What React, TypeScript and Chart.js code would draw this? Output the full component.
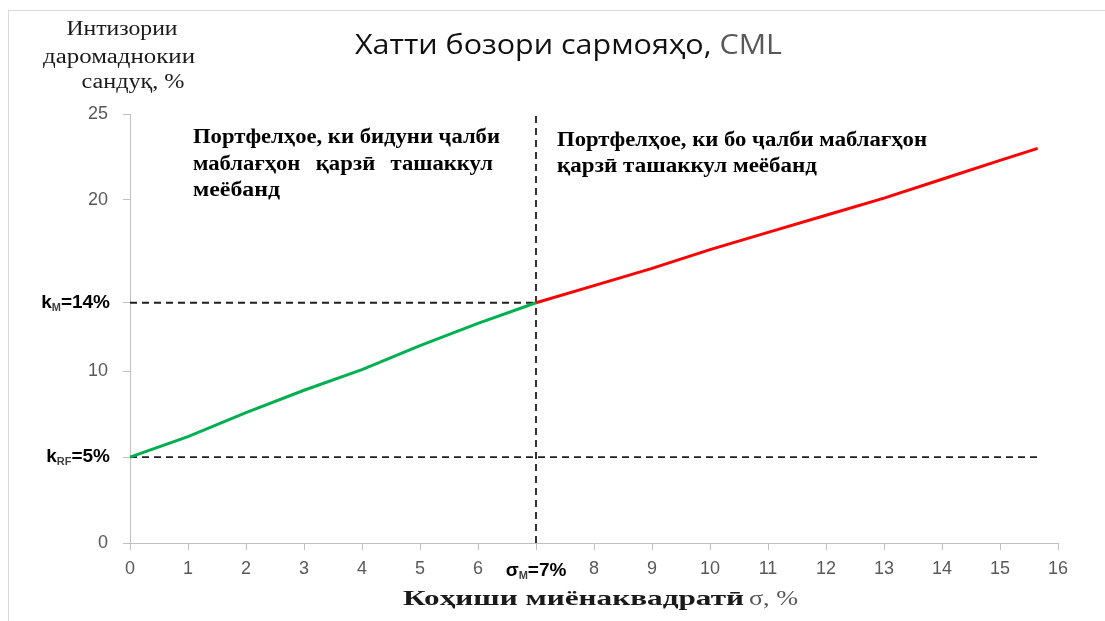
import React, { useEffect, useRef } from "react";
import { Chart, registerables } from "chart.js";

Chart.register(...registerables);

// ---- data ----
const X_TICKS = [0, 1, 2, 3, 4, 5, 6, 7, 8, 9, 10, 11, 12, 13, 14, 15, 16];
const Y_TICKS = [0, 5, 10, 14, 20, 25];
const GREEN_X = [0, 1, 2, 3, 4, 4.5, 5, 6, 7];
const GREEN_Y = [5, 6.2, 7.6, 8.9, 10.1, 10.8, 11.5, 12.8, 14];
const RED_X = [7, 8, 9, 10, 11, 12, 13, 14, 15, 15.65];
const RED_Y = [14, 15.0, 16.0, 17.1, 18.1, 19.1, 20.1, 21.2, 22.3, 23.0];
const K_M = 14;
const K_RF = 5;
const SIGMA_M = 7;
const X_END = 15.65;
const Y_MAX = 25;
const X_MAX = 16;

const TITLE_MAIN = "Хатти бозори сармояҳо,";
const TITLE_CML = " CML";
const Y_TITLE = ["Интизории", "даромаднокии", "сандуқ, %"];
const LEFT_NOTE = ["Портфелҳое, ки бидуни ҷалби", "маблағҳон қарзӣ ташаккул", "меёбанд"];
const RIGHT_NOTE = ["Портфелҳое, ки бо ҷалби маблағҳон", "қарзӣ ташаккул меёбанд"];
const X_TITLE_BOLD = "Коҳиши миёнаквадратӣ";
const X_TITLE_REG = "σ, %";

const SANS = "'Liberation Sans', Arial, sans-serif";
const SERIF = "'Liberation Serif', 'Times New Roman', serif";

function toPts(xs: number[], ys: number[]) {
  return xs.map((x, i) => ({ x, y: ys[i] }));
}

type Part = { text: string; font: string; color: string };

function drawParts(ctx: CanvasRenderingContext2D, parts: Part[], x: number, y: number, target: number) {
  let total = 0;
  const ws = parts.map((p) => {
    ctx.font = p.font;
    const w = ctx.measureText(p.text).width;
    total += w;
    return w;
  });
  const s = target / total;
  ctx.save();
  ctx.translate(x, y);
  ctx.scale(s, 1);
  ctx.textAlign = "left";
  ctx.textBaseline = "alphabetic";
  let cx = 0;
  parts.forEach((p, i) => {
    ctx.font = p.font;
    ctx.fillStyle = p.color;
    ctx.fillText(p.text, cx, 0);
    cx += ws[i];
  });
  ctx.restore();
  return s;
}

function drawJustified(ctx: CanvasRenderingContext2D, text: string, font: string, color: string, x0: number, x1: number, y: number, s: number) {
  const words = text.split(" ");
  ctx.font = font;
  const ws = words.map((w) => ctx.measureText(w).width * s);
  const sum = ws.reduce((a, b) => a + b, 0);
  const gap = (x1 - x0 - sum) / (words.length - 1);
  let cx = x0;
  words.forEach((w, i) => {
    ctx.save();
    ctx.translate(cx, y);
    ctx.scale(s, 1);
    ctx.font = font;
    ctx.fillStyle = color;
    ctx.textAlign = "left";
    ctx.textBaseline = "alphabetic";
    ctx.fillText(w, 0, 0);
    ctx.restore();
    cx += ws[i] + gap;
  });
}

function drawSubLabel(ctx: CanvasRenderingContext2D, main: string, sub: string, rest: string, x: number, y: number, align: "right" | "center") {
  const big = `bold 19px ${SANS}`;
  const small = `bold 11px ${SANS}`;
  ctx.save();
  ctx.textBaseline = "middle";
  ctx.textAlign = "left";
  ctx.font = big;
  const w1 = ctx.measureText(main).width;
  const w3 = ctx.measureText(rest).width;
  ctx.font = small;
  const w2 = ctx.measureText(sub).width;
  const total = w1 + w2 + w3;
  const sx = align === "right" ? x - total : x - total / 2;
  ctx.fillStyle = "#000";
  ctx.font = big;
  ctx.fillText(main, sx, y);
  ctx.font = small;
  ctx.fillStyle = "#404040";
  ctx.fillText(sub, sx + w1, y + 5);
  ctx.font = big;
  ctx.fillStyle = "#000";
  ctx.fillText(rest, sx + w1 + w2, y);
  ctx.restore();
}

const textPlugin = {
  id: "cmlText",
  afterDraw(chart: any) {
    const ctx: CanvasRenderingContext2D = chart.ctx;
    const xs = chart.scales.x;
    const ys = chart.scales.y;

    // title
    drawParts(
      ctx,
      [
        { text: TITLE_MAIN, font: `28px 'Open Sans', sans-serif`, color: "#111" },
        { text: TITLE_CML, font: `28px 'Open Sans', sans-serif`, color: "#595959" },
      ],
      355,
      54,
      427
    );

    // y-axis title (three lines)
    const yt = [
      { c: 122, b: 35, w: 111 },
      { c: 119, b: 63, w: 152 },
      { c: 133, b: 88, w: 103 },
    ];
    Y_TITLE.forEach((t, i) => {
      drawParts(ctx, [{ text: t, font: `20px ${SERIF}`, color: "#1a1a1a" }], yt[i].c - yt[i].w / 2, yt[i].b, yt[i].w);
    });

    // left note
    const bf = `bold 20px ${SERIF}`;
    const s1 = drawParts(ctx, [{ text: LEFT_NOTE[0], font: bf, color: "#000" }], 193, 143, 307);
    drawJustified(ctx, LEFT_NOTE[1], bf, "#000", 193, 493, 170, s1);
    drawParts(ctx, [{ text: LEFT_NOTE[2], font: bf, color: "#000" }], 193, 196, 87);

    // right note
    drawParts(ctx, [{ text: RIGHT_NOTE[0], font: bf, color: "#000" }], 557, 146, 370);
    drawParts(ctx, [{ text: RIGHT_NOTE[1], font: bf, color: "#000" }], 557, 172, 260);

    // x-axis title
    drawParts(ctx, [{ text: X_TITLE_BOLD, font: `bold 22px ${SERIF}`, color: "#1a1a1a" }], 403, 605, 341);
    drawParts(ctx, [{ text: X_TITLE_REG, font: `22px ${SERIF}`, color: "#595959" }], 749, 605, 49);

    // special tick labels
    drawSubLabel(ctx, "k", "M", "=14%", 110, ys.getPixelForValue(K_M), "right");
    drawSubLabel(ctx, "k", "RF", "=5%", 110, ys.getPixelForValue(K_RF), "right");
    drawSubLabel(ctx, "σ", "M", "=7%", xs.getPixelForValue(SIGMA_M), xs.top + 28, "center");
  },
};

export default function App() {
  const ref = useRef<HTMLCanvasElement | null>(null);
  useEffect(() => {
    if (!ref.current) return;
    const dash = { borderColor: "#1f1f1f", borderWidth: 1.8, borderDash: [7, 5], pointRadius: 0, showLine: true, fill: false };
    const chart = new Chart(ref.current, {
      type: "scatter",
      data: {
        datasets: [
          { label: "green", data: toPts(GREEN_X, GREEN_Y), borderColor: "#00B050", borderWidth: 3, pointRadius: 0, showLine: true, clip: false } as any,
          { label: "red", data: toPts(RED_X, RED_Y), borderColor: "#FF0000", borderWidth: 3, pointRadius: 0, showLine: true, clip: false } as any,
          { label: "kM", data: [{ x: 0, y: K_M }, { x: SIGMA_M, y: K_M }], ...dash } as any,
          { label: "kRF", data: [{ x: 0, y: K_RF }, { x: X_END, y: K_RF }], ...dash } as any,
          { label: "sigmaM", data: [{ x: SIGMA_M, y: 0 }, { x: SIGMA_M, y: Y_MAX }], ...dash } as any,
        ],
      },
      options: {
        animation: false,
        responsive: false,
        maintainAspectRatio: false,
        layout: { padding: { left: 70, top: 114, right: 47, bottom: 38 } },
        plugins: { legend: { display: false }, tooltip: { enabled: false }, title: { display: false } },
        scales: {
          x: {
            type: "linear",
            min: 0,
            max: X_MAX,
            afterBuildTicks: (scale: any) => {
              scale.ticks = X_TICKS.map((v) => ({ value: v }));
            },
            afterFit: (scale: any) => {
              scale.height = 40;
            },
            ticks: {
              autoSkip: false,
              maxRotation: 0,
              padding: 8,
              color: "#595959",
              font: { family: SANS, size: 18 },
              callback: (v: any) => (v === SIGMA_M ? "" : String(v)),
            },
            grid: { display: true, drawOnChartArea: false, drawTicks: true, tickLength: 7, color: "#BFBFBF" },
            border: { display: true, color: "#BFBFBF", width: 1 },
          },
          y: {
            type: "linear",
            min: 0,
            max: Y_MAX,
            afterBuildTicks: (scale: any) => {
              scale.ticks = Y_TICKS.map((v) => ({ value: v }));
            },
            afterFit: (scale: any) => {
              scale.width = 60;
            },
            ticks: {
              autoSkip: false,
              padding: 15,
              color: "#595959",
              font: { family: SANS, size: 18 },
              callback: (v: any) => (v === K_M || v === K_RF ? "" : String(v)),
            },
            grid: { display: true, drawOnChartArea: false, drawTicks: true, tickLength: 7, color: "#BFBFBF" },
            border: { display: true, color: "#BFBFBF", width: 1 },
          },
        },
      } as any,
      plugins: [textPlugin],
    });
    return () => chart.destroy();
  }, []);

  return (
    <div style={{ position: "absolute", left: 0, top: 0, width: 1105, height: 621, overflow: "hidden", background: "#fff" }}>
      <div
        style={{
          position: "absolute",
          left: 8,
          top: 10,
          width: 1105,
          height: 640,
          borderTop: "1px solid #D9D9D9",
          borderLeft: "1px solid #D9D9D9",
        }}
      />
      <canvas ref={ref} width={1105} height={621} style={{ position: "absolute", left: 0, top: 0, width: 1105, height: 621 }} />
    </div>
  );
}
